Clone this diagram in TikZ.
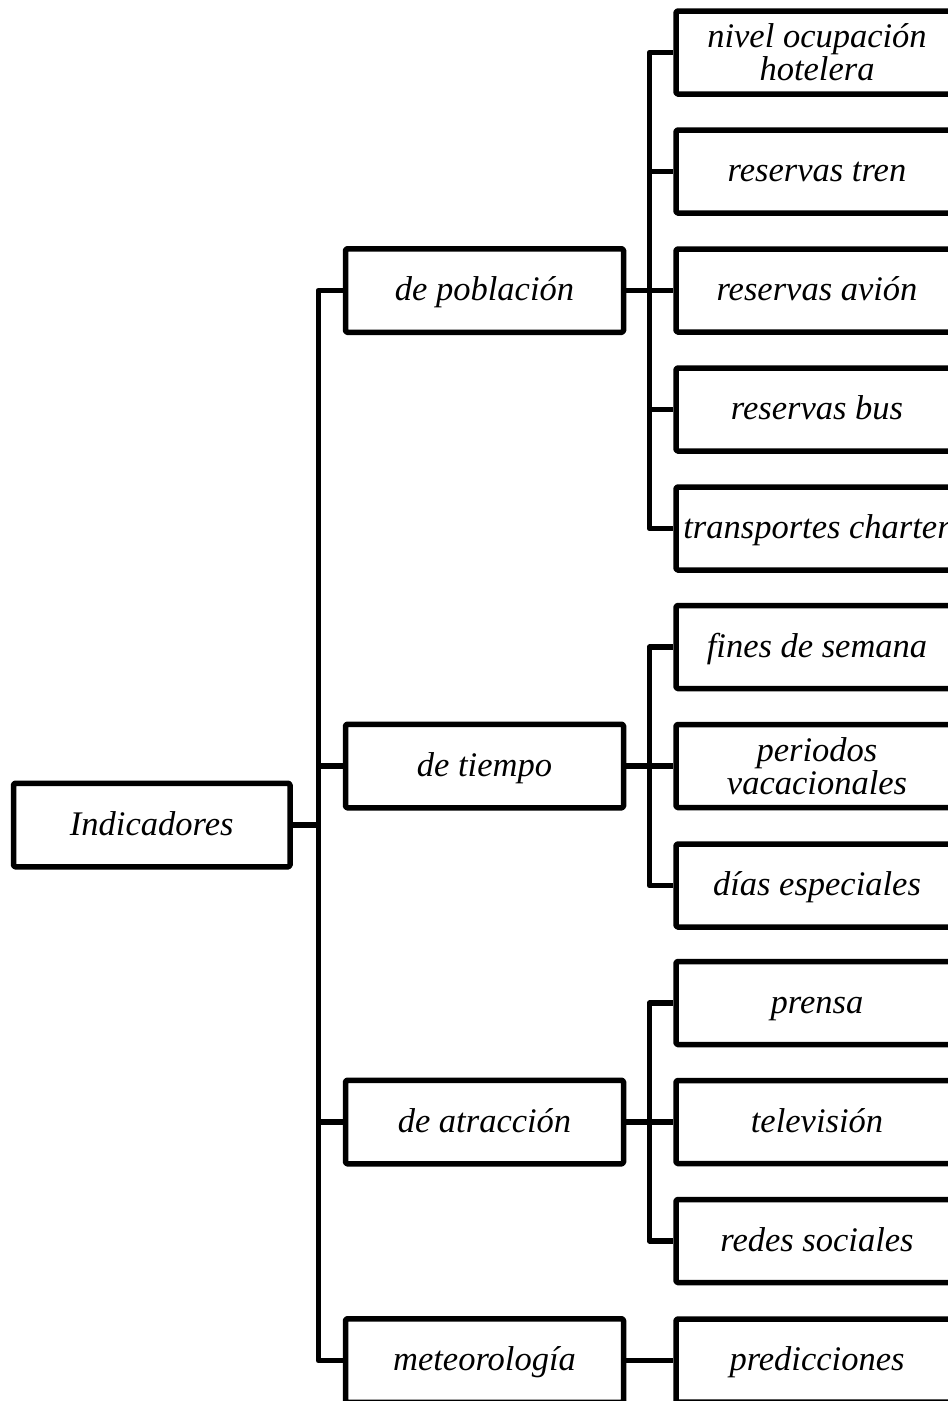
\documentclass[tikz,border=0pt]{standalone}
\usepackage{fontspec}
\setmainfont{Liberation Serif}
\begin{document}
\begin{tikzpicture}[x=1pt,y=-1pt,
  line width=5.5pt, line join=round,
  box/.style={draw, line width=5.5pt, rounded corners=1.5pt, align=center,
    inner sep=0pt, font=\fontsize{34.5}{33}\selectfont\itshape},
  oneline/.style={text height=25pt, text depth=5pt},
  rootbox/.style={box, oneline, minimum width=276.5pt, minimum height=83.5pt},
  midbox/.style={box, oneline, minimum width=278pt, minimum height=83.5pt},
  leafbox/.style={box, minimum width=282pt, minimum height=83pt},
  leaf/.style={leafbox, oneline},
  link/.style={draw, line width=5.5pt, line join=round}]
\useasboundingbox (0,0) rectangle (948,1401);
\clip (0,0) rectangle (948,1401);

% root
\node[rootbox] (ind) at (151.75,825) {Indicadores};

% first level
\node[midbox] (pob) at (484.5,290.5)  {de población};
\node[midbox] (tie) at (484.5,766)  {de tiempo};
\node[midbox] (atr) at (484.5,1122) {de atracción};
\node[midbox] (met) at (484.5,1360.5) {meteorología};

% second level
\node[leafbox] (hot) at (817,52.5)   {nivel ocupación\\hotelera};
\node[leaf] (tre) at (817,171.5)  {reservas tren};
\node[leaf] (avi) at (817,290.5)  {reservas avión};
\node[leaf] (bus) at (817,409.5)  {reservas bus};
\node[leaf] (cha) at (817,528.5)  {transportes charter};
\node[leaf] (fin) at (817,647)  {fines de semana};
\node[leafbox] (per) at (817,766)  {periodos\\vacacionales};
\node[leaf] (dia) at (817,885.5)  {días especiales};
\node[leaf] (pre) at (817,1003) {prensa};
\node[leaf] (tel) at (817,1122) {televisión};
\node[leaf] (red) at (817,1241) {redes sociales};
\node[leaf] (pred) at (817,1360.5) {predicciones};

% junction points of the tree
\coordinate (j0) at (318.3,825);
\coordinate (jp) at (649.5,290.5);
\coordinate (jt) at (649.5,766);
\coordinate (ja) at (649.5,1122);

% root to first level
\path[link] (ind.east) -- (j0);
\path[link] (j0) |- (pob.west);
\path[link] (j0) |- (tie.west);
\path[link] (j0) |- (atr.west);
\path[link] (j0) |- (met.west);

% de población
\path[link] (pob.east) -- (jp);
\foreach \n in {hot,tre,avi,bus,cha} \path[link] (jp) |- (\n.west);

% de tiempo
\path[link] (tie.east) -- (jt);
\foreach \n in {fin,per,dia} \path[link] (jt) |- (\n.west);

% de atracción
\path[link] (atr.east) -- (ja);
\foreach \n in {pre,tel,red} \path[link] (ja) |- (\n.west);

% meteorología
\path[link] (met.east) -- (pred.west);
\end{tikzpicture}
\end{document}
